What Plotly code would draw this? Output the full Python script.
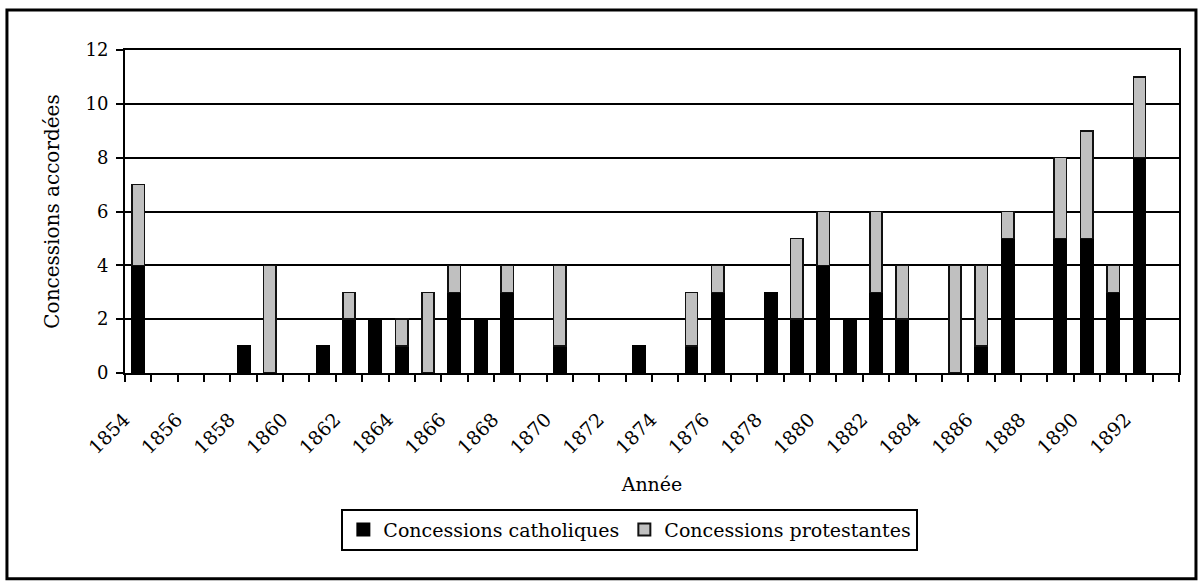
import plotly.graph_objects as go

# Concessions accordées par année, 1854-1893
annees = [str(a) for a in range(1854, 1894)]
catholiques = [4, 0, 0, 0, 1, 0, 0, 1, 2, 2,
               1, 0, 3, 2, 3, 0, 1, 0, 0, 1,
               0, 1, 3, 0, 3, 2, 4, 2, 3, 2,
               0, 0, 1, 5, 0, 5, 5, 3, 8, 0]
protestantes = [3, 0, 0, 0, 0, 4, 0, 0, 1, 0,
                1, 3, 1, 0, 1, 0, 3, 0, 0, 0,
                0, 2, 1, 0, 0, 3, 2, 0, 3, 2,
                0, 4, 3, 1, 0, 3, 4, 1, 3, 0]
etiquettes = [a if int(a) % 2 == 0 else "" for a in annees]

FONT = "DejaVu Serif"


def sans_zero(vals):
    return [v if v else None for v in vals]


fig = go.Figure()
fig.add_trace(go.Bar(
    x=annees, y=sans_zero(catholiques), name="Concessions catholiques",
    marker=dict(color="#000000", line=dict(color="#000000", width=1.5)),
))
fig.add_trace(go.Bar(
    x=annees, y=sans_zero(protestantes), name="Concessions protestantes",
    marker=dict(color="#c0c0c0", line=dict(color="#111111", width=1.5)),
))

fig.update_layout(
    width=1199, height=583,
    margin=dict(l=125, r=20, t=50, b=210),
    barmode="stack", bargap=0.53,
    plot_bgcolor="white", paper_bgcolor="white",
    font=dict(family=FONT, size=19, color="black"),
    showlegend=True,
    legend=dict(
        orientation="h", x=0.479, xanchor="center", y=-0.42, yanchor="top",
        bordercolor="black", borderwidth=2, bgcolor="white",
        font=dict(family=FONT, size=19), itemsizing="constant",
        traceorder="normal", itemwidth=30,
    ),
)

fig.update_xaxes(
    type="category", categoryorder="array", categoryarray=annees,
    tickmode="array", tickvals=annees, ticktext=etiquettes,
    tickson="boundaries", ticks="outside", ticklen=7, tickwidth=2, tickcolor="black",
    tickangle=-45, tickfont=dict(family=FONT, size=19),
    ticklabelshift=-14, ticklabelstandoff=26,
    showline=True, linecolor="black", linewidth=2, mirror=True,
    showgrid=False,
    title=dict(text="Année", font=dict(family=FONT, size=19), standoff=21),
)
fig.update_yaxes(
    range=[0, 12], dtick=2, tick0=0,
    ticks="outside", ticklen=7, tickwidth=2, tickcolor="black",
    tickfont=dict(family=FONT, size=18),
    showline=True, linecolor="black", linewidth=2, mirror=True,
    showgrid=True, gridcolor="black", gridwidth=2,
    zeroline=False, ticklabelstandoff=4,
    title=dict(text="Concessions accordées", font=dict(family=FONT, size=20), standoff=20),
)

# cadre extérieur du graphique
fig.add_shape(
    type="rect", xref="paper", yref="paper",
    x0=-0.112, x1=1.0161, y0=-0.637, y1=1.1238,
    line=dict(color="black", width=3), fillcolor="rgba(0,0,0,0)", layer="below",
)

fig.write_html("out.html")
